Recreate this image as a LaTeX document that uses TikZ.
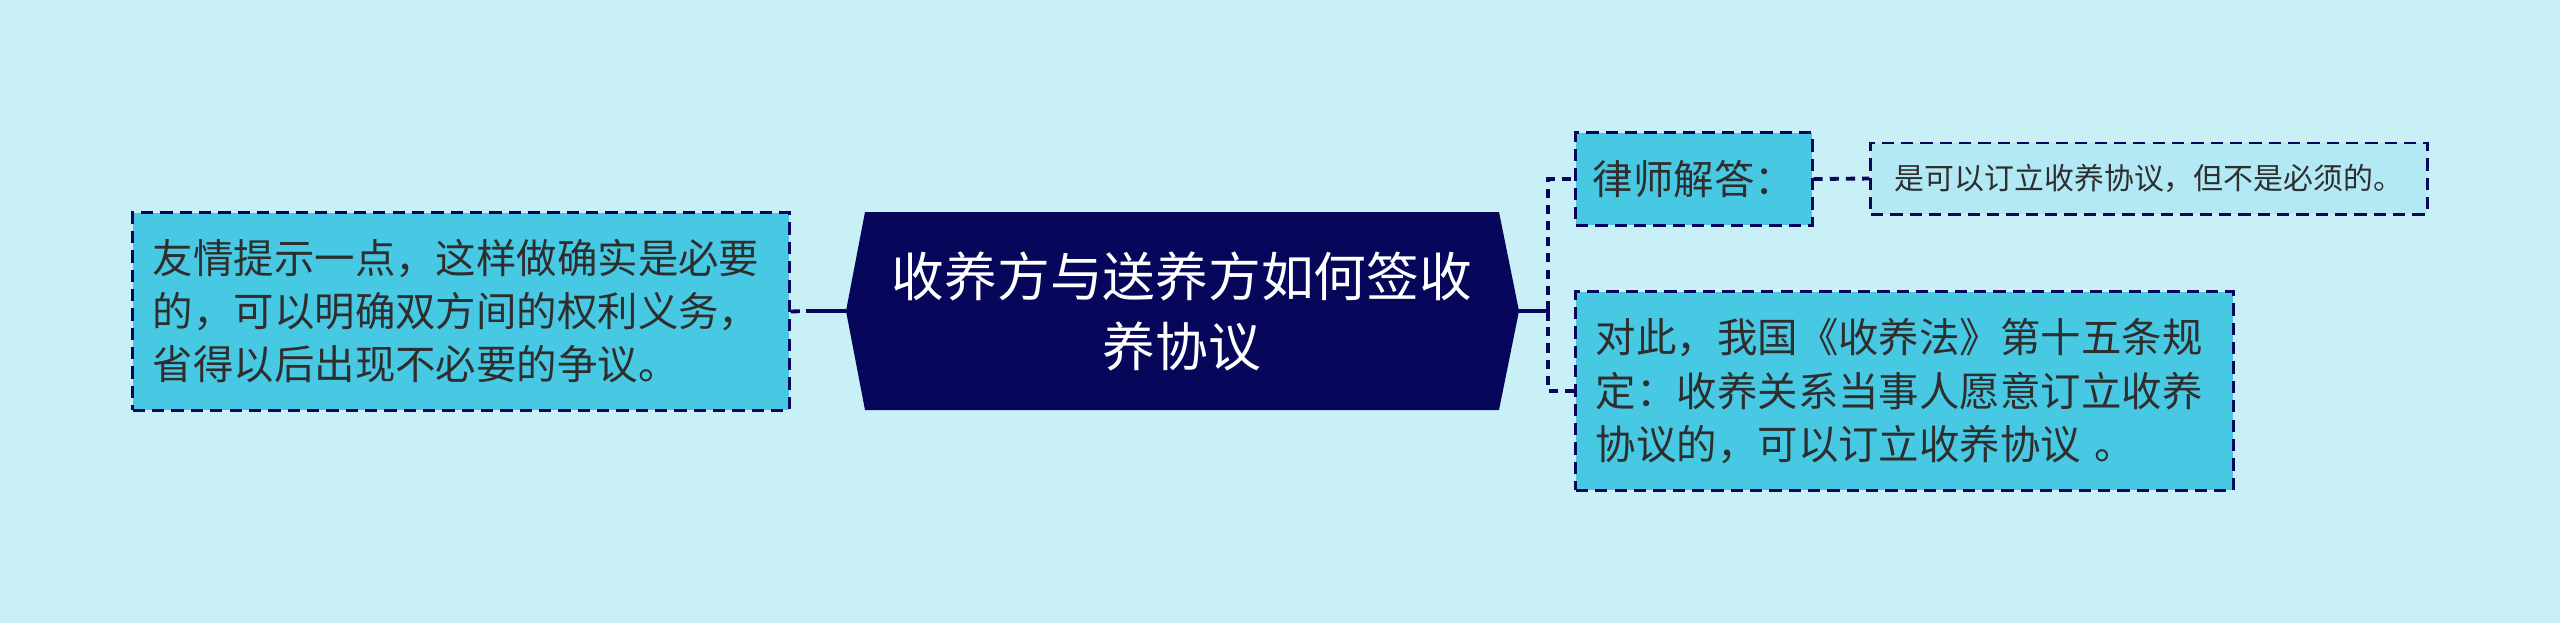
\documentclass[tikz,border=0pt]{standalone}
\usepackage{fontspec}
\usepackage{xcolor}
\usepackage{tikz}
\newfontfamily\cjk{Noto Sans CJK SC}
\definecolor{bgcol}{HTML}{C9EFF7}
\definecolor{boxcol}{HTML}{48C9E3}
\definecolor{palecol}{HTML}{B2E9F5}
\definecolor{navy}{HTML}{06065A}
\definecolor{inkcol}{HTML}{2E2E2E}

\tikzset{
	leaf/.style={draw=navy, line width=0.85pt, dash pattern=on 3.5pt off 2pt,
		fill=boxcol, text=inkcol, align=left, inner sep=0pt,
		font=\cjk\fontsize{11.5pt}{15.1pt}\selectfont},
	bigleaf/.style={leaf, text width=6.16cm, minimum width=6.56cm, minimum height=1.97cm},
	rootbox/.style={text=white, align=center, inner sep=0pt,
		font=\cjk\fontsize{15pt}{19.9pt}\selectfont},
	solidline/.style={draw=navy, line width=1.15pt},
	dashline/.style={draw=navy, line width=1.1pt, dash pattern=on 2.6pt off 2pt}
}

\begin{document}
\begin{tikzpicture}[x=0.01cm, y=-0.01cm]

\fill[bgcol] (0,0) rectangle (2560,623);
\useasboundingbox (0,0) rectangle (2560,623);

\coordinate (lt) at ( 846,311);
\coordinate (rt) at (1519,311);
\fill[navy] (lt)--(865,212)--(1499,212)--(rt)--(1499,410)--(865,410)--cycle;
\node[rootbox] (root) at (1182,311) {收养方与送养方如何签收\\养协议};

\node[bigleaf] (tip) at (461,311.5)
	{友情提示一点，这样做确实是必要\\的，可以明确双方间的权利义务，\\省得以后出现不必要的争议。};

\node[leaf, minimum width=2.36cm, minimum height=0.92cm, align=center] (lawyer) at (1694,179) {律师解答：};
\node[leaf, fill=palecol, minimum width=5.56cm, minimum height=0.71cm, align=center,
	font=\cjk\fontsize{8.5pt}{10pt}\selectfont] (answer) at (2149,178.5)
	{是可以订立收养协议，但不是必须的。};
\node[bigleaf, text width=6.17cm, minimum width=6.57cm, minimum height=1.98cm] (law) at (1904.5,391)
	{对此，我国《收养法》第十五条规\\定：收养关系当事人愿意订立收养\\协议的，可以订立收养协议 。};

\coordinate (jl) at ( 806,311);
\coordinate (jr) at (1548,311);

\draw[solidline] (lt) -- (jl);
\draw[dashline] (tip.east) -- (jl);

\draw[solidline] (rt) -- (jr);
\draw[solidline] ([yshift=-0.1cm]jr) -- ([yshift=0.1cm]jr);
\draw[dashline] (jr) |- (lawyer.west);
\draw[dashline] (jr) |- (law.west);
\draw[dashline] (lawyer.east) -- (answer.west);

\end{tikzpicture}
\end{document}
